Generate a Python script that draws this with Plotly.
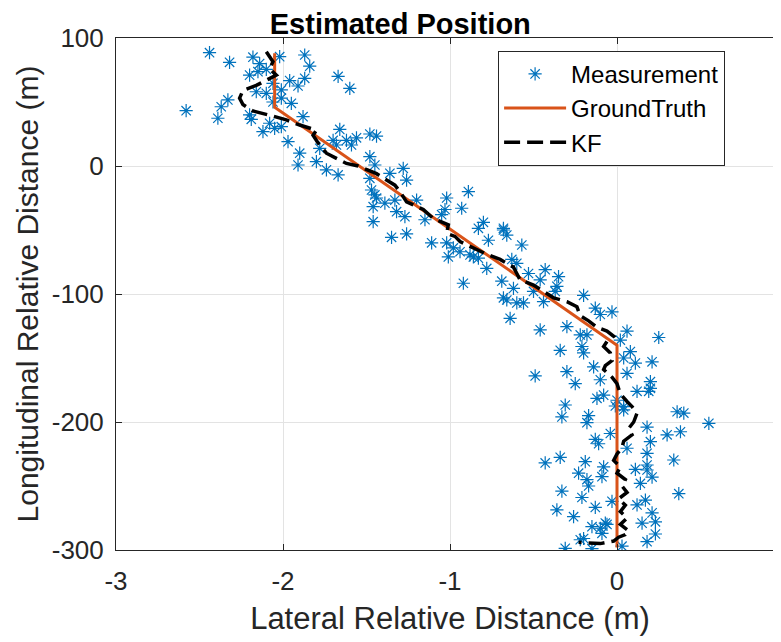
import plotly.graph_objects as go

# Measurements (lateral x, longitudinal y)
meas_x = [
    -2.44, -2.32, -2.18, -2.02, -1.87, -1.84, -2.14, -2.10, -2.15, -2.20, -1.87, -1.96, -1.91, -1.67, -1.60,
    -2.06, -2.01, -2.16, -2.10, -2.01, -1.95, -2.06, -2.33, -2.37, -2.58, -2.39, -2.20, -2.19, -1.88, -2.08,
    -2.12, -2.01, -2.05, -1.66, -1.97, -1.90, -1.91, -1.80, -1.74, -1.67, -1.62, -1.56, -1.48, -1.44, -1.59,
    -1.48, -1.45, -1.47, -1.46, -1.46, -1.45, -1.68, -1.70,
    -1.78, -1.48, -1.36, -1.28, -1.26, -1.44, -1.39, -1.33, -1.32, -1.27, -1.20, -1.35, -1.26, -1.15, -1.11,
    -1.02, -1.03, -1.05, -0.93, -0.89, -1.02, -0.98, -1.01, -0.94, -0.86, -0.83, -0.80, -0.77, -0.68, -0.66,
    -0.57, -0.78, -0.92, -0.69, -0.62, -0.68, -0.60, -0.63, -0.60, -0.53, -0.46, -0.43, -0.35, -0.36, -0.44,
    -0.20, -0.13, -0.56, -0.64,
    -0.68, -0.88, -0.83, -0.37, -0.50, -0.66, -0.46, -0.30, -0.10, -0.03, -0.22, -0.18, -0.34, -0.21, -0.20,
    -0.14, -0.49, -0.30, -0.25, -0.10, -0.08, -0.12, -0.31, -0.33, -0.17, 0.02, 0.06, 0.08, 0.04, 0.11,
    0.06, 0.21, 0.25, 0.20, 0.19, 0.12, 0.36, 0.40, 0.55, 0.04, 0.00,
    -0.18, -0.04, -0.13, -0.11, -0.34, -0.43, -0.19, -0.23, -0.18, -0.17, -0.08, -0.09, -0.33, -0.21, -0.36,
    -0.26, -0.13, -0.03, -0.15, -0.10, -0.07, -0.09, -0.20, -0.31, -0.15, 0.03, 0.18, 0.23, 0.23, 0.15,
    0.21, 0.17, 0.12, 0.14, 0.11, 0.18, 0.21, 0.18, 0.18, 0.06, 0.20, 0.18, 0.30, 0.38, 0.34,
    0.37, 0.20, 0.04, -0.01, -0.22, -0.06,
]
meas_y = [
    88.5, 81, 85, 85.4, 86.7, 78, 80, 75.5, 73.7, 71, 68.5, 66.7, 62.5, 70, 60.7,
    64.6, 59.4, 58, 56.8, 53, 49, 50, 51.6, 46.3, 43.2, 37.3, 40, 36.5, 38.5, 33.4,
    26.8, 30.7, 29.4, 28.6, 19, 10, 0.8, 3.4, -3, -7, 20, 22, 25, 23.4, 16.4,
    7.3, 0.8, -18.75, -31.8, -43.5, -22.6, 16.4, 20,
    13.8, -9.6, -5.7, -1.8, -11, -25, -29, -26.6, -35.7, -39.6, -26.6, -55.7, -53, -42, -60,
    -25, -34, -38, -33, -20, -60, -64, -71, -67, -71, -48.7, -44, -58, -48.7, -54,
    -61.7, -80, -91.6, -90, -95.6, -103, -107, -73, -76, -84, -89, -81, -86.5, -94, -106,
    -101, -111, -107, -119,
    -50, -69.5, -72, -98, -98, -104.7, -128, -125.5, -116, -114, -132, -132, -144, -141, -146,
    -157, -164, -160.7, -170, -167, -179, -181.5, -186.7, -196, -195, -136, -129, -145, -150, -154,
    -162, -153, -134, -168.5, -176, -176, -192, -193, -201, -188, -183,
    -200.5, -209, -213.5, -217, -227.6, -232, -231, -240, -245, -250, -235, -242.7, -254, -259, -268.7,
    -274, -266.7, -262, -281.8, -283, -279, -287, -291, -298.7, -299, -297, -293.5, -287.5, -278, -279,
    -271, -261, -264.8, -248, -237, -237.5, -243, -233.6, -224.5, -220.5, -215.4, -204, -210, -207.6, -229.7,
    -256, -173.7, -190.6, -187.5, -292, -280,
]

# Ground truth trajectory
gt_x = [-2.05, -2.05, 0.0, 0.0]
gt_y = [88, 46, -140, -298]

# Kalman filter estimate
kf_x = [
    -2.10, -2.06, -2.08, -2.04, -2.10, -2.16, -2.24, -2.26, -2.24, -2.18, -2.06, -1.98, -1.90, -1.80, -1.82,
    -1.79, -1.74, -1.62, -1.55, -1.50, -1.44, -1.38, -1.33, -1.30, -1.26, -1.21, -1.16, -1.10, -1.06, -1.01,
    -1.02, -0.97, -0.94, -0.88, -0.83, -0.78, -0.70, -0.66, -0.62, -0.60, -0.58, -0.50, -0.44, -0.38, -0.30,
    -0.24, -0.22, -0.17, -0.12, -0.06, -0.02, -0.06, -0.08, -0.04, -0.03, -0.07, -0.08, -0.03, 0.00, 0.02,
    0.06, 0.09, 0.12, 0.10, 0.07, 0.09, 0.04, 0.03, 0.00, -0.02, 0.02, 0.00, 0.05, 0.03, 0.06,
    0.01, 0.05, 0.02, 0.06, 0.02, 0.07, 0.05, 0.01, -0.02, -0.10, -0.23,
]
kf_y = [
    89.3, 81.5, 76, 71, 67, 63, 59, 53, 48, 43, 39, 36, 32, 28, 24,
    18, 10, 2, 0, -3, -6, -11, -15, -20, -28, -31, -34, -41, -43, -46,
    -52.6, -55, -59, -63, -66, -69, -73, -76, -79, -84, -89, -93, -98, -103, -106,
    -110, -117, -121, -126, -129, -133, -137, -141, -146, -152, -156, -159, -165, -170, -178,
    -184, -188, -193, -200, -205, -210, -215, -220, -225, -230, -235, -240, -245, -250, -255,
    -260, -265, -270, -275, -280, -285, -288, -290, -293, -295, -294,
]

x_ticks = [-3, -2, -1, 0, 1]
x_ticklabels = ["-3", "-2", "-1", "0", "1"]
y_ticks = [-300, -200, -100, 0, 100]
y_ticklabels = ["-300", "-200", "-100", "0", "100"]

FONT = "Liberation Sans, Arial, Helvetica, sans-serif"
AX = "#262626"

fig = go.Figure()
fig.add_trace(go.Scatter(
    x=meas_x, y=meas_y, mode="markers", name="Measurement",
    marker=dict(symbol="asterisk-open", size=11, color="#0072BD",
                line=dict(color="#0072BD", width=1.2)),
))
fig.add_trace(go.Scatter(
    x=gt_x, y=gt_y, mode="lines", name="GroundTruth",
    line=dict(color="#D95319", width=3),
))
fig.add_trace(go.Scatter(
    x=kf_x, y=kf_y, mode="lines", name="KF",
    line=dict(color="black", width=3.5, dash="16px,7px"),
))

fig.update_layout(
    width=781, height=642,
    margin=dict(l=108, r=5, t=30, b=100),
    paper_bgcolor="white", plot_bgcolor="white",
    font=dict(family=FONT, color=AX, size=26),
    title=dict(text="Estimated Position", x=0.5023, xanchor="center",
               y=1 - 16 / 642, yanchor="middle",
               font=dict(family=FONT, size=29, color="black", weight="bold")),
    showlegend=True,
    legend=dict(x=0.572, y=0.975, xanchor="left", yanchor="top",
                bgcolor="white", bordercolor=AX, borderwidth=1,
                font=dict(family=FONT, size=24, color="black"),
                itemwidth=62, tracegroupgap=0),
)
fig.update_xaxes(
    range=[-3, 1], tickvals=x_ticks, ticktext=x_ticklabels,
    showgrid=True, gridcolor="#e3e3e3", gridwidth=1, zeroline=False,
    showline=True, linecolor=AX, linewidth=1, mirror="ticks",
    ticks="inside", ticklen=6, tickcolor=AX, ticklabelstandoff=8,
    title=dict(text="Lateral Relative Distance (m)", standoff=12,
               font=dict(family=FONT, size=31, color=AX)),
)
fig.update_yaxes(
    range=[-300, 100], tickvals=y_ticks, ticktext=y_ticklabels,
    showgrid=True, gridcolor="#e3e3e3", gridwidth=1, zeroline=False,
    showline=True, linecolor=AX, linewidth=1, mirror="ticks",
    ticks="inside", ticklen=6, tickcolor=AX, ticklabelstandoff=6,
    title=dict(text="Longitudinal Relative Distance (m)", standoff=4,
               font=dict(family=FONT, size=30, color=AX)),
)

fig.write_html("out.html")
